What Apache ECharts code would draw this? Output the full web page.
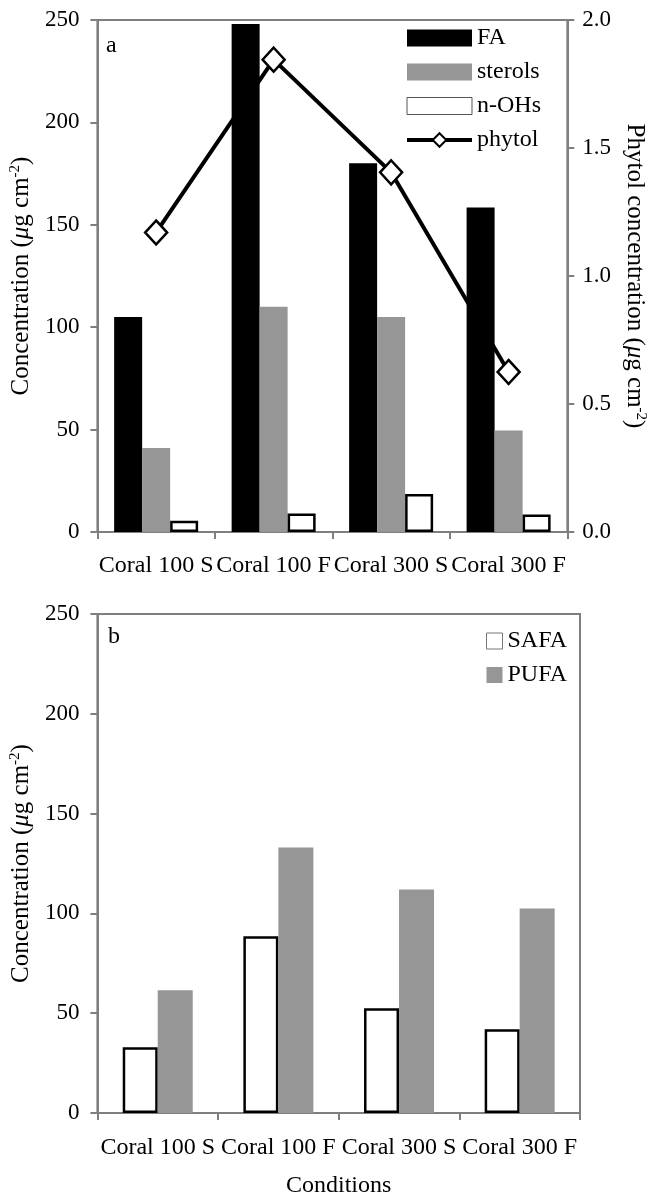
<!DOCTYPE html>
<html>
<head>
<meta charset="utf-8">
<script src="https://cdn.jsdelivr.net/npm/echarts@6/dist/echarts.min.js"></script>
<style>
html,body{margin:0;padding:0;background:#fff;}
#chart{width:656px;height:1199px;}
</style>
</head>
<body>
<div id="chart"></div>
<script>
const categories = ['Coral 100 S', 'Coral 100 F', 'Coral 300 S', 'Coral 300 F'];
const faValues = [105, 248, 180, 158.5];
const sterolValues = [41, 110, 105, 49.5];
const nohValues = [5.5, 9, 18.5, 8.6];
const phytolValues = [1.17, 1.845, 1.405, 0.625];
const safaValues = [33, 88.5, 52.5, 42];
const pufaValues = [61.5, 133, 112, 102.5];
const concTicks = { min: 0, max: 250, interval: 50 };
const phytolTicks = { min: 0, max: 2, interval: 0.5 };

const FONT = '"Liberation Serif", "Times New Roman", serif';
const AXIS_GRAY = '#7f7f7f';
const BAR_GRAY = '#969696';

const nameRich = {
  a: { fontFamily: FONT, fontSize: 25, color: '#000' },
  i: { fontFamily: FONT, fontSize: 25, fontStyle: 'italic', color: '#000' },
  s: { fontFamily: FONT, fontSize: 15, color: '#000', verticalAlign: 'top', padding: [0, 0, 12, 0] }
};
const concName = '{a|Concentration (}{i|μ}{a|g cm}{s|-2}{a|)}';
const phytolName = '{a|Phytol concentration (}{i|μ}{a|g cm}{s|-2}{a|)}';

const axisLineCfg = { show: true, lineStyle: { color: AXIS_GRAY, width: 2 } };
const axisTickCfg = { show: true, length: 7, inside: false, lineStyle: { color: AXIS_GRAY, width: 2 } };

function valueAxis(gridIndex, position, ticks, extra) {
  return Object.assign({
    type: 'value', gridIndex: gridIndex, position: position,
    min: ticks.min, max: ticks.max, interval: ticks.interval,
    splitLine: { show: false },
    axisLine: axisLineCfg, axisTick: axisTickCfg,
    axisLabel: { fontFamily: FONT, fontSize: 23, color: '#000', margin: 18 }
  }, extra || {});
}

function catAxis(gridIndex, margin, extra) {
  return Object.assign({
    type: 'category', gridIndex: gridIndex, data: categories,
    boundaryGap: true,
    axisLine: axisLineCfg,
    axisTick: { show: true, length: 7, alignWithLabel: false, lineStyle: { color: AXIS_GRAY, width: 2 } },
    axisLabel: { fontFamily: FONT, fontSize: 24, color: '#000', margin: margin, interval: 0 },
    splitLine: { show: false }
  }, extra || {});
}

const chart = echarts.init(document.getElementById('chart'), null, { renderer: 'canvas' });

const option = {
  animation: false,
  backgroundColor: '#fff',
  grid: [
    { left: 94, right: 75, top: 20, height: 512, show: true, borderColor: AXIS_GRAY, borderWidth: 2, backgroundColor: 'transparent' },
    { left: 95, right: 76, top: 614, height: 500, show: true, borderColor: AXIS_GRAY, borderWidth: 2, backgroundColor: 'transparent' }
  ],
  xAxis: [
    catAxis(0, 22),
    catAxis(1, 23, {
      name: 'Conditions', nameLocation: 'middle', nameGap: 61,
      nameTextStyle: { fontFamily: FONT, fontSize: 24, color: '#000' }
    })
  ],
  yAxis: [
    valueAxis(0, 'left', concTicks, {
      name: concName, nameLocation: 'middle', nameGap: 58, nameRotate: 90,
      nameTextStyle: { rich: nameRich }
    }),
    valueAxis(0, 'right', phytolTicks, {
      name: phytolName, nameLocation: 'middle', nameGap: 52, nameRotate: -90,
      nameTextStyle: { rich: nameRich },
      axisLabel: { fontFamily: FONT, fontSize: 23, color: '#000', margin: 15, formatter: function (v) { return v.toFixed(1); } }
    }),
    valueAxis(1, 'left', concTicks, {
      name: concName, nameLocation: 'middle', nameGap: 58, nameRotate: 90,
      nameTextStyle: { rich: nameRich }
    })
  ],
  legend: [
    {
      orient: 'vertical', left: 405, top: 26, padding: 0,
      itemWidth: 65, itemHeight: 17, itemGap: 10,
      textStyle: { fontFamily: FONT, fontSize: 24, color: '#000', lineHeight: 24 },
      data: [
        { name: 'FA', icon: 'rect' },
        { name: 'sterols', icon: 'rect' },
        { name: 'n-OHs', icon: 'rect', itemStyle: { borderWidth: 1, borderColor: '#555' } },
        { name: 'phytol', lineStyle: { width: 4, color: '#000' }, itemStyle: { color: '#fff', borderColor: '#000', borderWidth: 2 } }
      ]
    },
    {
      orient: 'vertical', left: 486, top: 629, padding: 0,
      itemWidth: 16, itemHeight: 16, itemGap: 10,
      textStyle: { fontFamily: FONT, fontSize: 24, color: '#000', lineHeight: 24 },
      data: [
        { name: 'SAFA', icon: 'rect', itemStyle: { borderWidth: 1, borderColor: '#777' } },
        { name: 'PUFA', icon: 'rect' }
      ]
    }
  ],
  graphic: [
    { type: 'text', left: 106, top: 34, style: { text: 'a', fontFamily: FONT, fontSize: 24, fill: '#000' } },
    { type: 'text', left: 108, top: 625, style: { text: 'b', fontFamily: FONT, fontSize: 24, fill: '#000' } }
  ],
  series: [
    {
      name: 'phytol', type: 'line', xAxisIndex: 0, yAxisIndex: 1, z: 1,
      data: phytolValues,
      symbol: 'diamond', symbolSize: [22, 24],
      lineStyle: { color: '#000', width: 4 },
      itemStyle: { color: '#fff', borderColor: '#000', borderWidth: 2.5 }
    },
    {
      name: 'FA', type: 'bar', xAxisIndex: 0, yAxisIndex: 0, z: 3,
      data: faValues, barWidth: 28, barGap: '0%',
      itemStyle: { color: '#000' }
    },
    {
      name: 'sterols', type: 'bar', xAxisIndex: 0, yAxisIndex: 0, z: 3,
      data: sterolValues, barWidth: 28, barGap: '0%',
      itemStyle: { color: BAR_GRAY }
    },
    {
      name: 'n-OHs', type: 'bar', xAxisIndex: 0, yAxisIndex: 0, z: 3,
      data: nohValues, barWidth: 28, barGap: '0%',
      itemStyle: { color: '#fff', borderColor: '#000', borderWidth: 2.5 }
    },
    {
      name: 'SAFA', type: 'bar', xAxisIndex: 1, yAxisIndex: 2, z: 3,
      data: safaValues, barWidth: 35, barGap: '0%',
      itemStyle: { color: '#fff', borderColor: '#000', borderWidth: 2.5 }
    },
    {
      name: 'PUFA', type: 'bar', xAxisIndex: 1, yAxisIndex: 2, z: 3,
      data: pufaValues, barWidth: 35, barGap: '0%',
      itemStyle: { color: BAR_GRAY }
    }
  ]
};

chart.setOption(option);
</script>
</body>
</html>
